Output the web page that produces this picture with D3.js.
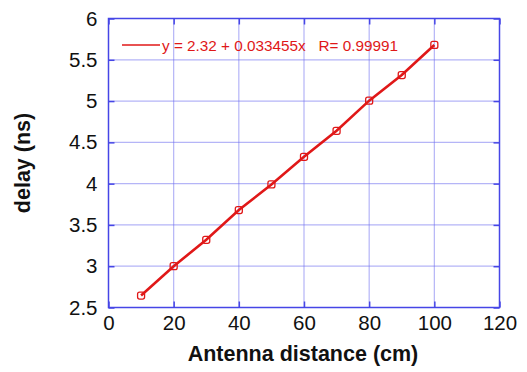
<!DOCTYPE html>
<html><head><meta charset="utf-8">
<script src="https://cdn.jsdelivr.net/npm/d3@7"></script>
<style>body{margin:0;background:#fff}svg{display:block}</style>
</head><body>
<svg id="c" width="527" height="372"></svg>
<script>
const distance = [10, 20, 30, 40, 50, 60, 70, 80, 90, 100];
const delay = [2.645, 3.00, 3.32, 3.68, 3.99, 4.325, 4.64, 5.005, 5.315, 5.68];
const xTicks = [0, 20, 40, 60, 80, 100, 120];
const yTicks = [2.5, 3, 3.5, 4, 4.5, 5, 5.5, 6];
const legendText = "y = 2.32 + 0.033455x   R= 0.99991";
const xTitle = "Antenna distance (cm)";
const yTitle = "delay (ns)";

const svg = d3.select("#c");
const L = 108.5, R = 499.5, T = 18.5, B = 307.5;
const x = d3.scaleLinear().domain([0, 120]).range([L, R]);
const y = d3.scaleLinear().domain([2.5, 6]).range([B, T]);
const blue = "#4646e6";
const red = "#e01818";
const font = "Liberation Sans, Arial, sans-serif";

// grid
const g = svg.append("g");
g.selectAll(".gx").data(xTicks.slice(1, -1)).join("line")
  .attr("x1", d => x(d)).attr("x2", d => x(d)).attr("y1", T).attr("y2", B)
  .attr("stroke", "#6a6aee").attr("stroke-width", 1.2).attr("stroke-dasharray", "1,1");
g.selectAll(".gy").data(yTicks.slice(1, -1)).join("line")
  .attr("y1", d => y(d)).attr("y2", d => y(d)).attr("x1", L).attr("x2", R)
  .attr("stroke", "#6a6aee").attr("stroke-width", 1.2).attr("stroke-dasharray", "1,1");

// frame
svg.append("rect").attr("x", L).attr("y", T).attr("width", R - L).attr("height", B - T)
  .attr("fill", "none").attr("stroke", blue).attr("stroke-width", 1.5);

// axes with inward ticks
const xAxB = svg.append("g").attr("transform", `translate(0,${B})`)
  .call(d3.axisBottom(x).tickValues(xTicks).tickSize(-6).tickPadding(8).tickFormat(d3.format("d")));
const xAxT = svg.append("g").attr("transform", `translate(0,${T})`)
  .call(d3.axisTop(x).tickValues(xTicks).tickSize(-6).tickFormat(""));
const yAxL = svg.append("g").attr("transform", `translate(${L},0)`)
  .call(d3.axisLeft(y).tickValues(yTicks).tickSize(-6).tickPadding(11).tickFormat(d => d));
const yAxR = svg.append("g").attr("transform", `translate(${R},0)`)
  .call(d3.axisRight(y).tickValues(yTicks).tickSize(-6).tickFormat(""));
[xAxB, xAxT, yAxL, yAxR].forEach(a => {
  a.select(".domain").remove();
  a.selectAll(".tick line").attr("stroke", blue).attr("stroke-width", 1.5);
  a.selectAll("text").attr("fill", "#111").attr("font-family", font).attr("font-size", 20.5);
});
xAxB.selectAll("text").attr("dy", "0.71em");

// data line
const line = d3.line().x((d, i) => x(distance[i])).y(d => y(d));
svg.append("path").datum(delay).attr("d", line)
  .attr("fill", "none").attr("stroke", red).attr("stroke-width", 2.6);
svg.selectAll(".m").data(delay).join("rect")
  .attr("x", (d, i) => x(distance[i]) - 3.5).attr("y", d => y(d) - 3.5)
  .attr("width", 7).attr("height", 7).attr("rx", 2)
  .attr("fill", "none").attr("stroke", red).attr("stroke-width", 1.3);

// legend
svg.append("line").attr("x1", 122).attr("x2", 160).attr("y1", 45).attr("y2", 45)
  .attr("stroke", red).attr("stroke-width", 1.3);
svg.append("text").attr("x", 162).attr("y", 50.5).text(legendText)
  .attr("fill", red).attr("font-family", font).attr("font-size", 15.3)
  .attr("xml:space", "preserve").style("white-space", "pre");

// titles
svg.append("text").attr("x", (L + R) / 2 - 1).attr("y", 361).attr("text-anchor", "middle")
  .attr("font-family", font).attr("font-weight", "bold").attr("font-size", 21.5)
  .attr("fill", "#111").text(xTitle);
svg.append("text").attr("transform", `translate(30,${(T + B) / 2}) rotate(-90)`)
  .attr("text-anchor", "middle").attr("font-family", font).attr("font-weight", "bold")
  .attr("font-size", 21.5).attr("fill", "#111").text(yTitle);
</script>
</body></html>
